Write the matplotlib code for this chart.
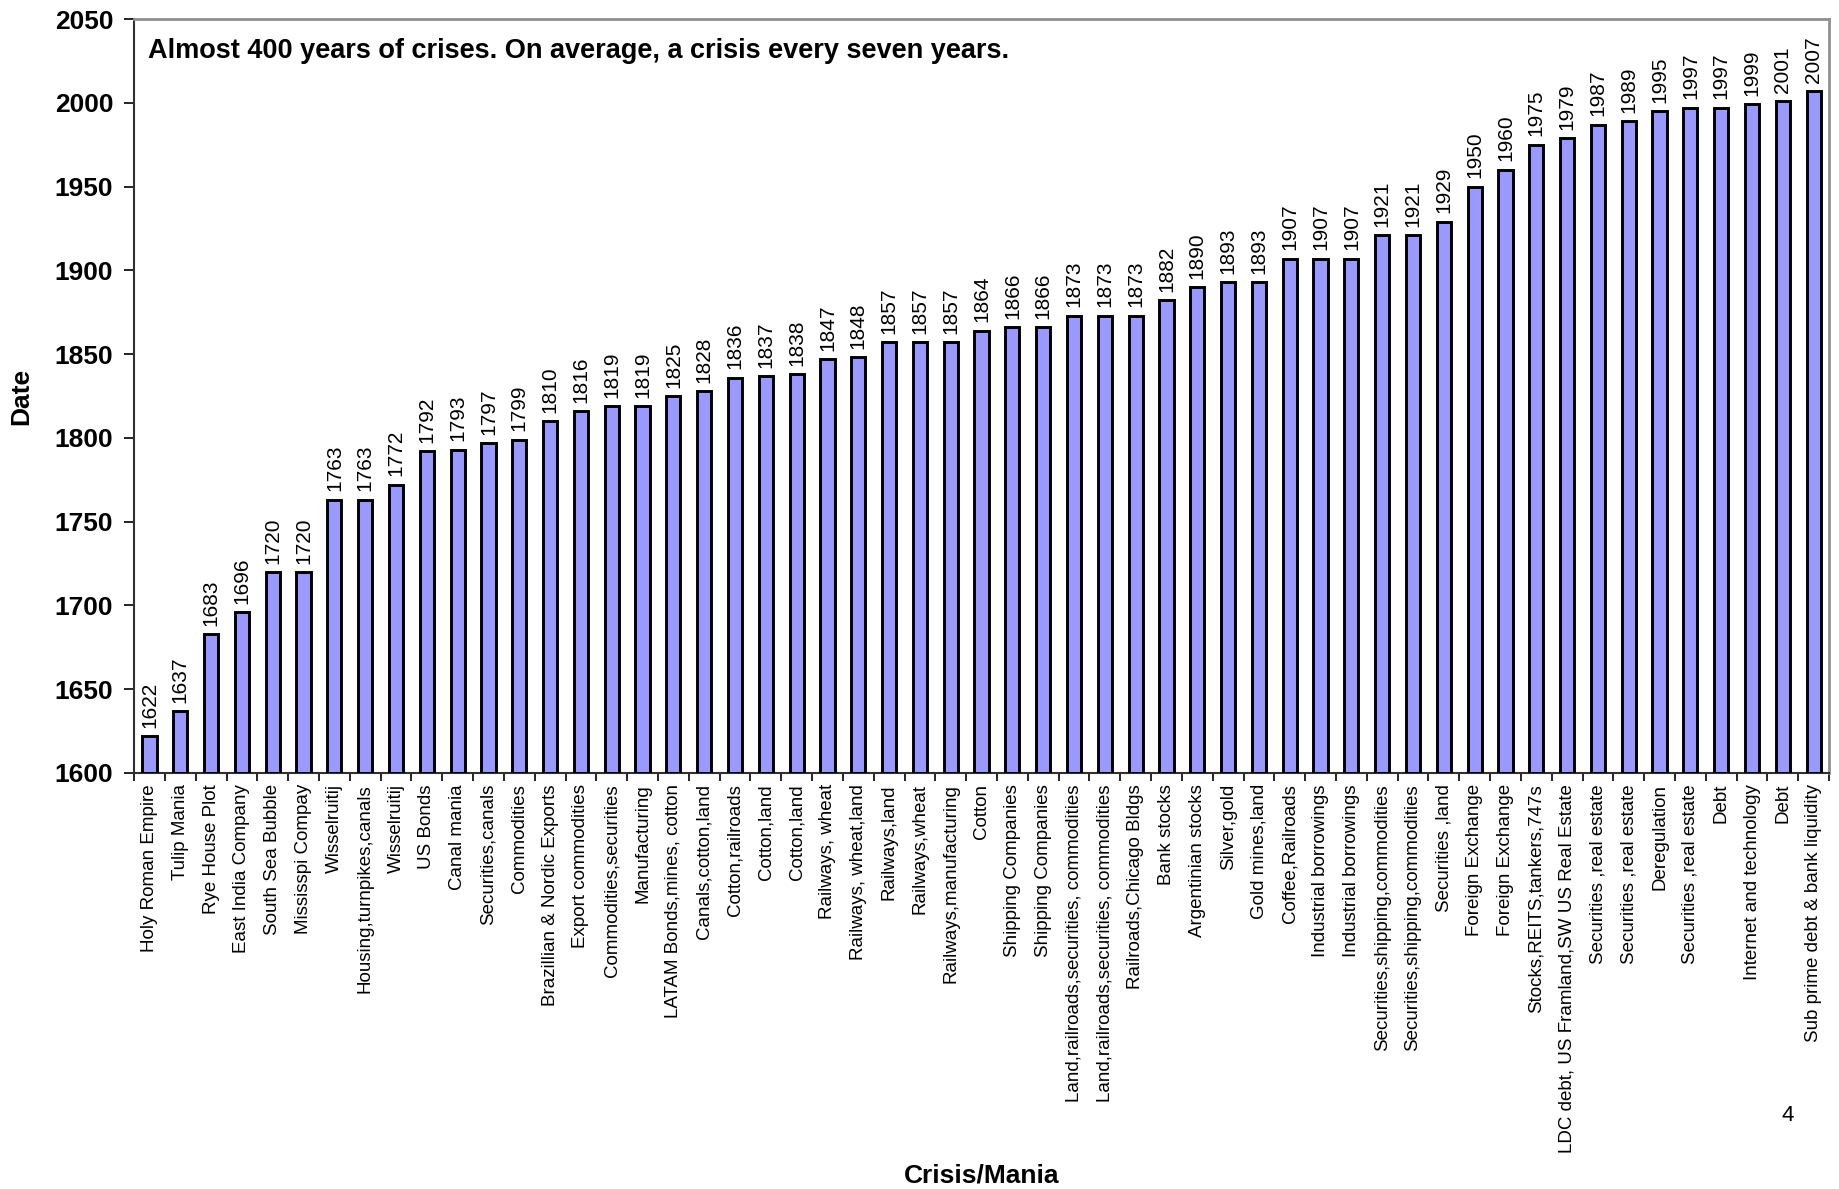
import numpy as np
import matplotlib
matplotlib.use("Agg")
import matplotlib.pyplot as plt

plt.rcParams['font.family'] = ['Liberation Sans', 'DejaVu Sans']

crises = [
    "Holy Roman Empire", "Tulip Mania", "Rye House Plot", "East India Company",
    "South Sea Bubble", "Mississpi Compay", "Wisselruitij", "Housing,turnpikes,canals",
    "Wisselruitij", "US Bonds", "Canal mania", "Securities,canals", "Commodities",
    "Brazillian & Nordic Exports", "Export commodities", "Commodities,securities",
    "Manufacturing", "LATAM Bonds,mines, cotton", "Canals,cotton,land",
    "Cotton,railroads", "Cotton,land", "Cotton,land", "Railways, wheat",
    "Railways, wheat,land", "Railways,land", "Railways,wheat", "Railways,manufacturing",
    "Cotton", "Shipping Companies", "Shipping Companies",
    "Land,railroads,securities, commodities", "Land,railroads,securities, commodities",
    "Railroads,Chicago Bldgs", "Bank stocks", "Argentinian stocks", "Silver,gold",
    "Gold mines,land", "Coffee,Railroads", "Industrial borrowings",
    "Industrial borrowings", "Securities,shipping,commodities",
    "Securities,shipping,commodities", "Securities ,land", "Foreign Exchange",
    "Foreign Exchange", "Stocks,REITS,tankers,747s",
    "LDC debt, US Framland,SW US Real Estate", "Securities ,real estate",
    "Securities ,real estate", "Deregulation", "Securities ,real estate", "Debt",
    "Internet and technology", "Debt", "Sub prime debt & bank liquidity",
]
years = [
    1622, 1637, 1683, 1696, 1720, 1720, 1763, 1763, 1772, 1792, 1793, 1797, 1799,
    1810, 1816, 1819, 1819, 1825, 1828, 1836, 1837, 1838, 1847, 1848, 1857, 1857,
    1857, 1864, 1866, 1866, 1873, 1873, 1873, 1882, 1890, 1893, 1893, 1907, 1907,
    1907, 1921, 1921, 1929, 1950, 1960, 1975, 1979, 1987, 1989, 1995, 1997, 1997,
    1999, 2001, 2007,
]
y_ticks = list(range(1600, 2051, 50))
base = 1600

fig = plt.figure(figsize=(18.39, 11.89), dpi=100)
ax = fig.add_axes([0.0729, 0.3499, 0.9217, 0.6341])

x = np.arange(len(crises))
heights = [y - base for y in years]
ax.bar(x, heights, bottom=base, width=0.46, color="#9999FF",
       edgecolor="black", linewidth=2.1, zorder=3)

for xi, yr in zip(x, years):
    ax.text(xi, yr + 5, str(yr), rotation=90, ha="center", va="bottom",
            fontsize=15, zorder=4)

ax.set_xlim(-0.5, len(crises) - 0.5)
ax.set_ylim(1600, 2050)
ax.set_yticks(y_ticks)
ax.set_yticklabels([str(t) for t in y_ticks], fontsize=19, fontweight="bold")

# tick marks sit between categories, labels sit under the bars
ax.set_xticks(np.arange(len(crises) + 1) - 0.5)
ax.set_xticklabels([])
ax.set_xticks(x, minor=True)
ax.set_xticklabels(crises, minor=True, rotation=90, fontsize=13.5)
ax.tick_params(axis="x", which="minor", length=0, pad=8)
ax.tick_params(axis="x", which="major", length=6, width=1.2, direction="out")
ax.tick_params(axis="y", length=7, width=1.2, direction="out", pad=8)

for side in ["top", "right"]:
    ax.spines[side].set_color("#909090")
    ax.spines[side].set_linewidth(2)
ax.spines["left"].set_color("#303030")
ax.spines["left"].set_linewidth(1.5)
ax.spines["bottom"].set_color("#303030")
ax.spines["bottom"].set_linewidth(1.5)

ax.text(0.008, 0.957, "Almost 400 years of crises. On average, a crisis every seven years.",
        transform=ax.transAxes, fontsize=19.5, fontweight="bold", va="center", ha="left")

fig.text(0.0114, 0.6668, "Date", rotation=90, fontsize=19, fontweight="bold",
         ha="center", va="center")
fig.text(0.5336, 0.0117, "Crisis/Mania", fontsize=19, fontweight="bold",
         ha="center", va="center")
fig.text(0.9723, 0.0622, "4", fontsize=16, ha="center", va="center")

fig.savefig("out.png", dpi=100)
